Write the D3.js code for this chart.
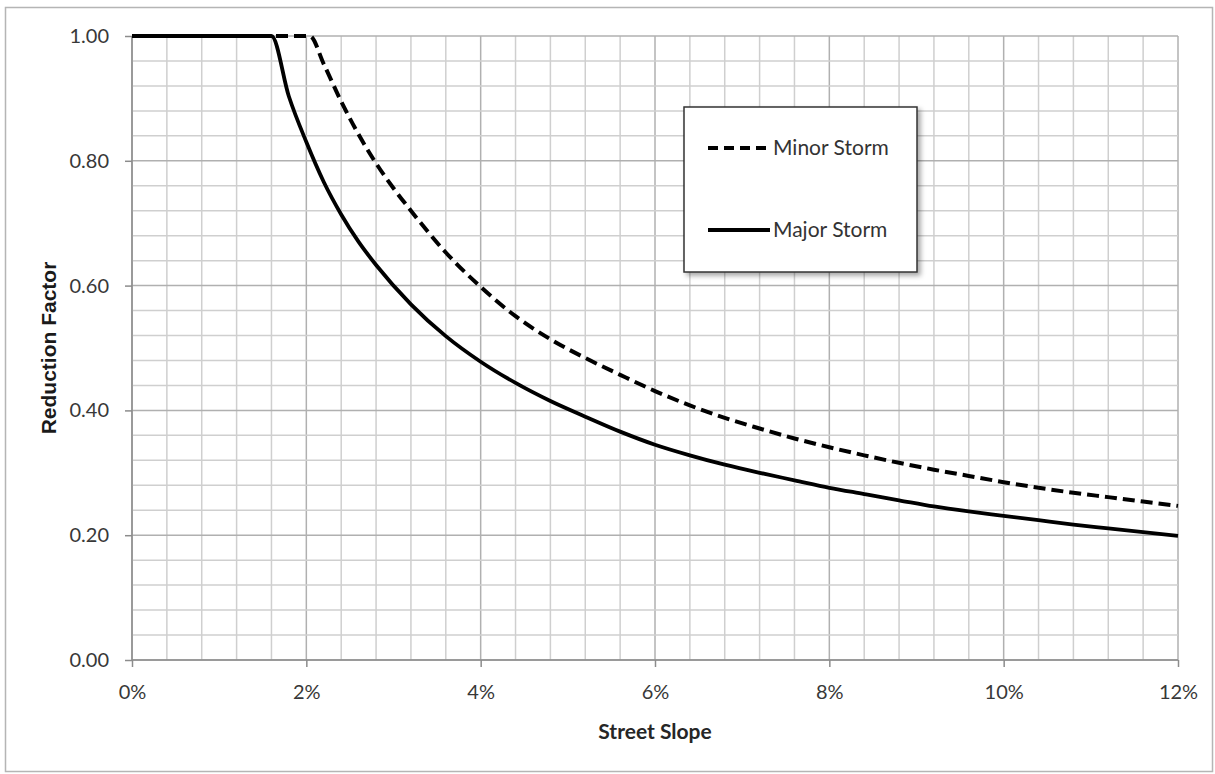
<!DOCTYPE html>
<html>
<head>
<meta charset="utf-8">
<script src="https://cdn.jsdelivr.net/npm/d3@7"></script>
<style>
  body { margin: 0; background: #fff; }
  .tick text { font-family: Lato, "Open Sans", sans-serif; fill: #383838; }
</style>
</head>
<body>
<div id="chart"></div>
<script>
// values (slope in %, factor 0..1)
const minorSlope = [0, 2.04, 2.2, 2.4, 2.6, 2.8, 3.0, 3.2, 3.6, 4.0, 4.4, 4.8, 5.2, 5.6, 6.0, 6.4, 6.8, 7.2, 7.6, 8.0, 8.4, 8.8, 9.2, 9.6, 10.0, 10.4, 10.8, 11.2, 11.6, 12.0];
const minorFactor = [1.0, 1.0, 0.955, 0.895, 0.842, 0.796, 0.756, 0.72, 0.653, 0.598, 0.551, 0.514, 0.484, 0.457, 0.431, 0.408, 0.388, 0.371, 0.355, 0.341, 0.328, 0.316, 0.305, 0.295, 0.285, 0.276, 0.268, 0.261, 0.254, 0.247];

const majorSlope = [0, 1.6, 1.8, 2.0, 2.2, 2.4, 2.6, 2.8, 3.2, 3.6, 4.0, 4.4, 4.8, 5.2, 5.6, 6.0, 6.4, 6.8, 7.2, 7.6, 8.0, 8.4, 8.8, 9.2, 9.6, 10.0, 10.4, 10.8, 11.2, 11.6, 12.0];
const majorFactor = [1.0, 1.0, 0.903, 0.83, 0.766, 0.714, 0.67, 0.633, 0.57, 0.519, 0.478, 0.444, 0.415, 0.39, 0.366, 0.345, 0.328, 0.313, 0.3, 0.288, 0.276, 0.266, 0.256, 0.246, 0.238, 0.231, 0.224, 0.217, 0.211, 0.205, 0.199];

const xTicks = [0, 2, 4, 6, 8, 10, 12];
const yTicks = [0, 0.2, 0.4, 0.6, 0.8, 1.0];
const seriesNames = ["Minor Storm", "Major Storm"];

const svgWidth = 1215;
const svgHeight = 774;
const margin = { top: 36, right: 37, bottom: 114, left: 132 };
const width = svgWidth - margin.left - margin.right;
const height = svgHeight - margin.top - margin.bottom;

const root = d3.select("#chart")
  .append("svg")
  .attr("width", svgWidth)
  .attr("height", svgHeight);

// outer frame
root.append("rect")
  .attr("x", 5.5).attr("y", 7.5)
  .attr("width", 1207).attr("height", 764)
  .attr("fill", "#fff")
  .attr("stroke", "#b5b5b5")
  .attr("stroke-width", 1.5);

const svg = root.append("g")
  .attr("transform", `translate(${margin.left},${margin.top})`);

const xScale = d3.scaleLinear().domain([0, 12]).range([0, width]);
const yScale = d3.scaleLinear().domain([0, 1]).range([height, 0]);

// grid, minor lines every 0.4% / 0.04
const xGridVals = d3.range(0, 31).map(i => +(i * 0.4).toFixed(1));
const yGridVals = d3.range(0, 26).map(i => +(i * 0.04).toFixed(2));

svg.append("g")
  .attr("class", "x-grid")
  .selectAll("line")
  .data(xGridVals)
  .enter()
  .append("line")
  .attr("x1", d => xScale(d)).attr("x2", d => xScale(d))
  .attr("y1", 0).attr("y2", height)
  .attr("stroke", d => xTicks.includes(d) ? "#b0b0b0" : "#cfcfcf")
  .attr("stroke-width", 1.5);

svg.append("g")
  .attr("class", "y-grid")
  .selectAll("line")
  .data(yGridVals)
  .enter()
  .append("line")
  .attr("x1", 0).attr("x2", width)
  .attr("y1", d => yScale(d)).attr("y2", d => yScale(d))
  .attr("stroke", d => yTicks.some(t => Math.abs(t - d) < 1e-6) ? "#b0b0b0" : "#cfcfcf")
  .attr("stroke-width", 1.5);

// axes
const xAxis = d3.axisBottom(xScale)
  .tickValues(xTicks)
  .tickSize(7)
  .tickPadding(18)
  .tickFormat(d => d + "%");

const xAxisG = svg.append("g")
  .attr("transform", `translate(0,${height})`)
  .call(xAxis);
xAxisG.selectAll("line, path").attr("stroke", "#8c8c8c").attr("stroke-width", 1.5);
xAxisG.select(".domain").attr("d", `M0,0H${width}`);
xAxisG.selectAll(".tick text").attr("font-size", 20);

const yAxis = d3.axisLeft(yScale)
  .tickValues(yTicks)
  .tickSize(7)
  .tickPadding(16)
  .tickFormat(d3.format(".2f"));

const yAxisG = svg.append("g").call(yAxis);
yAxisG.selectAll("line, path").attr("stroke", "#8c8c8c").attr("stroke-width", 1.5);
yAxisG.select(".domain").attr("d", `M0,0V${height}`);
yAxisG.selectAll(".tick text").attr("font-size", 20);

// axis titles
svg.append("text")
  .attr("x", width / 2)
  .attr("y", height + 79)
  .attr("text-anchor", "middle")
  .attr("font-family", "Lato, sans-serif")
  .attr("font-weight", "bold")
  .attr("font-size", 21)
  .attr("fill", "#262626")
  .text("Street Slope");

svg.append("text")
  .attr("transform", `translate(${-76},${height / 2}) rotate(-90)`)
  .attr("text-anchor", "middle")
  .attr("font-family", "'Liberation Sans', Arial, sans-serif")
  .attr("font-weight", "bold")
  .attr("font-size", 21)
  .attr("fill", "#1a1a1a")
  .text("Reduction Factor");

// lines
const line = d3.line()
  .x(d => xScale(d[0]))
  .y(d => yScale(d[1]))
  .curve(d3.curveMonotoneX);

const minorData = minorSlope.map((s, i) => [s, minorFactor[i]]);
const majorData = majorSlope.map((s, i) => [s, majorFactor[i]]);

svg.append("path")
  .datum(minorData)
  .attr("d", line)
  .attr("fill", "none")
  .attr("stroke", "#000")
  .attr("stroke-width", 4)
  .attr("stroke-dasharray", "12,6");

svg.append("path")
  .datum(majorData)
  .attr("d", line)
  .attr("fill", "none")
  .attr("stroke", "#000")
  .attr("stroke-width", 3.8);

// legend
const defs = root.append("defs");
const shadow = defs.append("filter").attr("id", "shadow")
  .attr("x", "-10%").attr("y", "-10%").attr("width", "130%").attr("height", "130%");
shadow.append("feDropShadow")
  .attr("dx", 3).attr("dy", 3).attr("stdDeviation", 2.5)
  .attr("flood-color", "#000").attr("flood-opacity", 0.35);

const legend = root.append("g").attr("transform", "translate(684,107)");
legend.append("rect")
  .attr("width", 233).attr("height", 165)
  .attr("fill", "#fff")
  .attr("stroke", "#333")
  .attr("stroke-width", 1.5)
  .attr("filter", "url(#shadow)");

const legendItems = legend.selectAll(".legend-item")
  .data(seriesNames)
  .enter()
  .append("g")
  .attr("class", "legend-item")
  .attr("transform", (d, i) => `translate(24,${41 + i * 82})`);

legendItems.append("line")
  .attr("x1", 0).attr("x2", 62)
  .attr("stroke", "#000")
  .attr("stroke-width", 3.8)
  .attr("stroke-dasharray", (d, i) => i === 0 ? "10,6" : null);

legendItems.append("text")
  .attr("x", 65)
  .attr("dy", "0.35em")
  .attr("font-family", "Lato, sans-serif")
  .attr("font-size", 21)
  .attr("fill", "#333")
  .text(d => d);
</script>
</body>
</html>
